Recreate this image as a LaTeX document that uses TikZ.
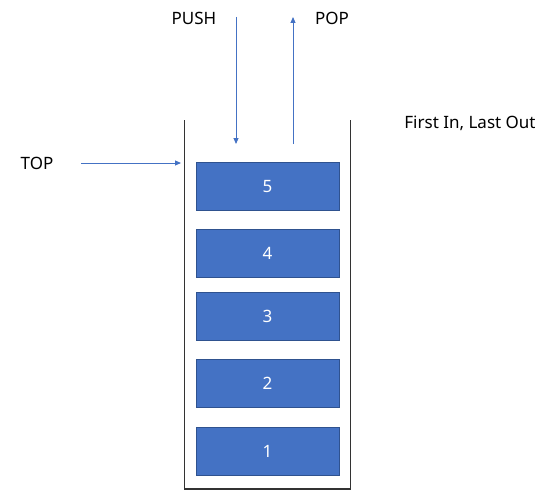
\documentclass[tikz,border=0pt]{standalone}
\usepackage{fontspec}
\setmainfont{Noto Sans}
\usepackage{xcolor}
\definecolor{stkfill}{HTML}{4472C4}
\definecolor{stkline}{HTML}{2F528F}
\usetikzlibrary{arrows.meta,positioning}

\tikzset{
  item/.style={draw=stkline,line width=1pt,fill=stkfill,minimum width=143pt,minimum height=48pt,
    inner sep=0pt,text=white,font=\fontsize{17}{19}\selectfont},
  lbl/.style={inner sep=0pt,font=\fontsize{17}{19}\selectfont},
  flow/.style={draw=stkfill,line width=0.9pt,-{Triangle[length=6pt,width=5pt]}}
}

\begin{document}
\begin{tikzpicture}[x=1pt,y=-1pt]
\useasboundingbox (0,0) rectangle (553,495);
% container
\draw[line width=1.4pt,black!80] (184.5,120) -- (184.5,489) -- (350.5,489) -- (350.5,120);
% stack items
\node[item] (i5) at (267.5,186.5) {5};
\node[item] (i4) at (267.5,253) {4};
\node[item] (i3) at (267.5,316) {3};
\node[item] (i2) at (267.5,383.5) {2};
\node[item] (i1) at (267.5,451.5) {1};
% labels
\node[lbl] (push) at (194,18) {PUSH};
\node[lbl] (pop) at (332,18) {POP};
\node[lbl] (top) at (37,163) {TOP};
\node[lbl] (filo) at (470,123) {First In, Last Out};
% arrows
\coordinate (pushs) at (236,17);
\coordinate (pushe) at (236,144);
\coordinate (pops) at (293,144);
\coordinate (pope) at (293,17);
\coordinate (tops) at (81,163);
\coordinate (tope) at (181,163);
\draw[flow] (pushs) -- (pushe);
\draw[flow] (pops) -- (pope);
\draw[flow] (tops) -- (tope);
\end{tikzpicture}
\end{document}
